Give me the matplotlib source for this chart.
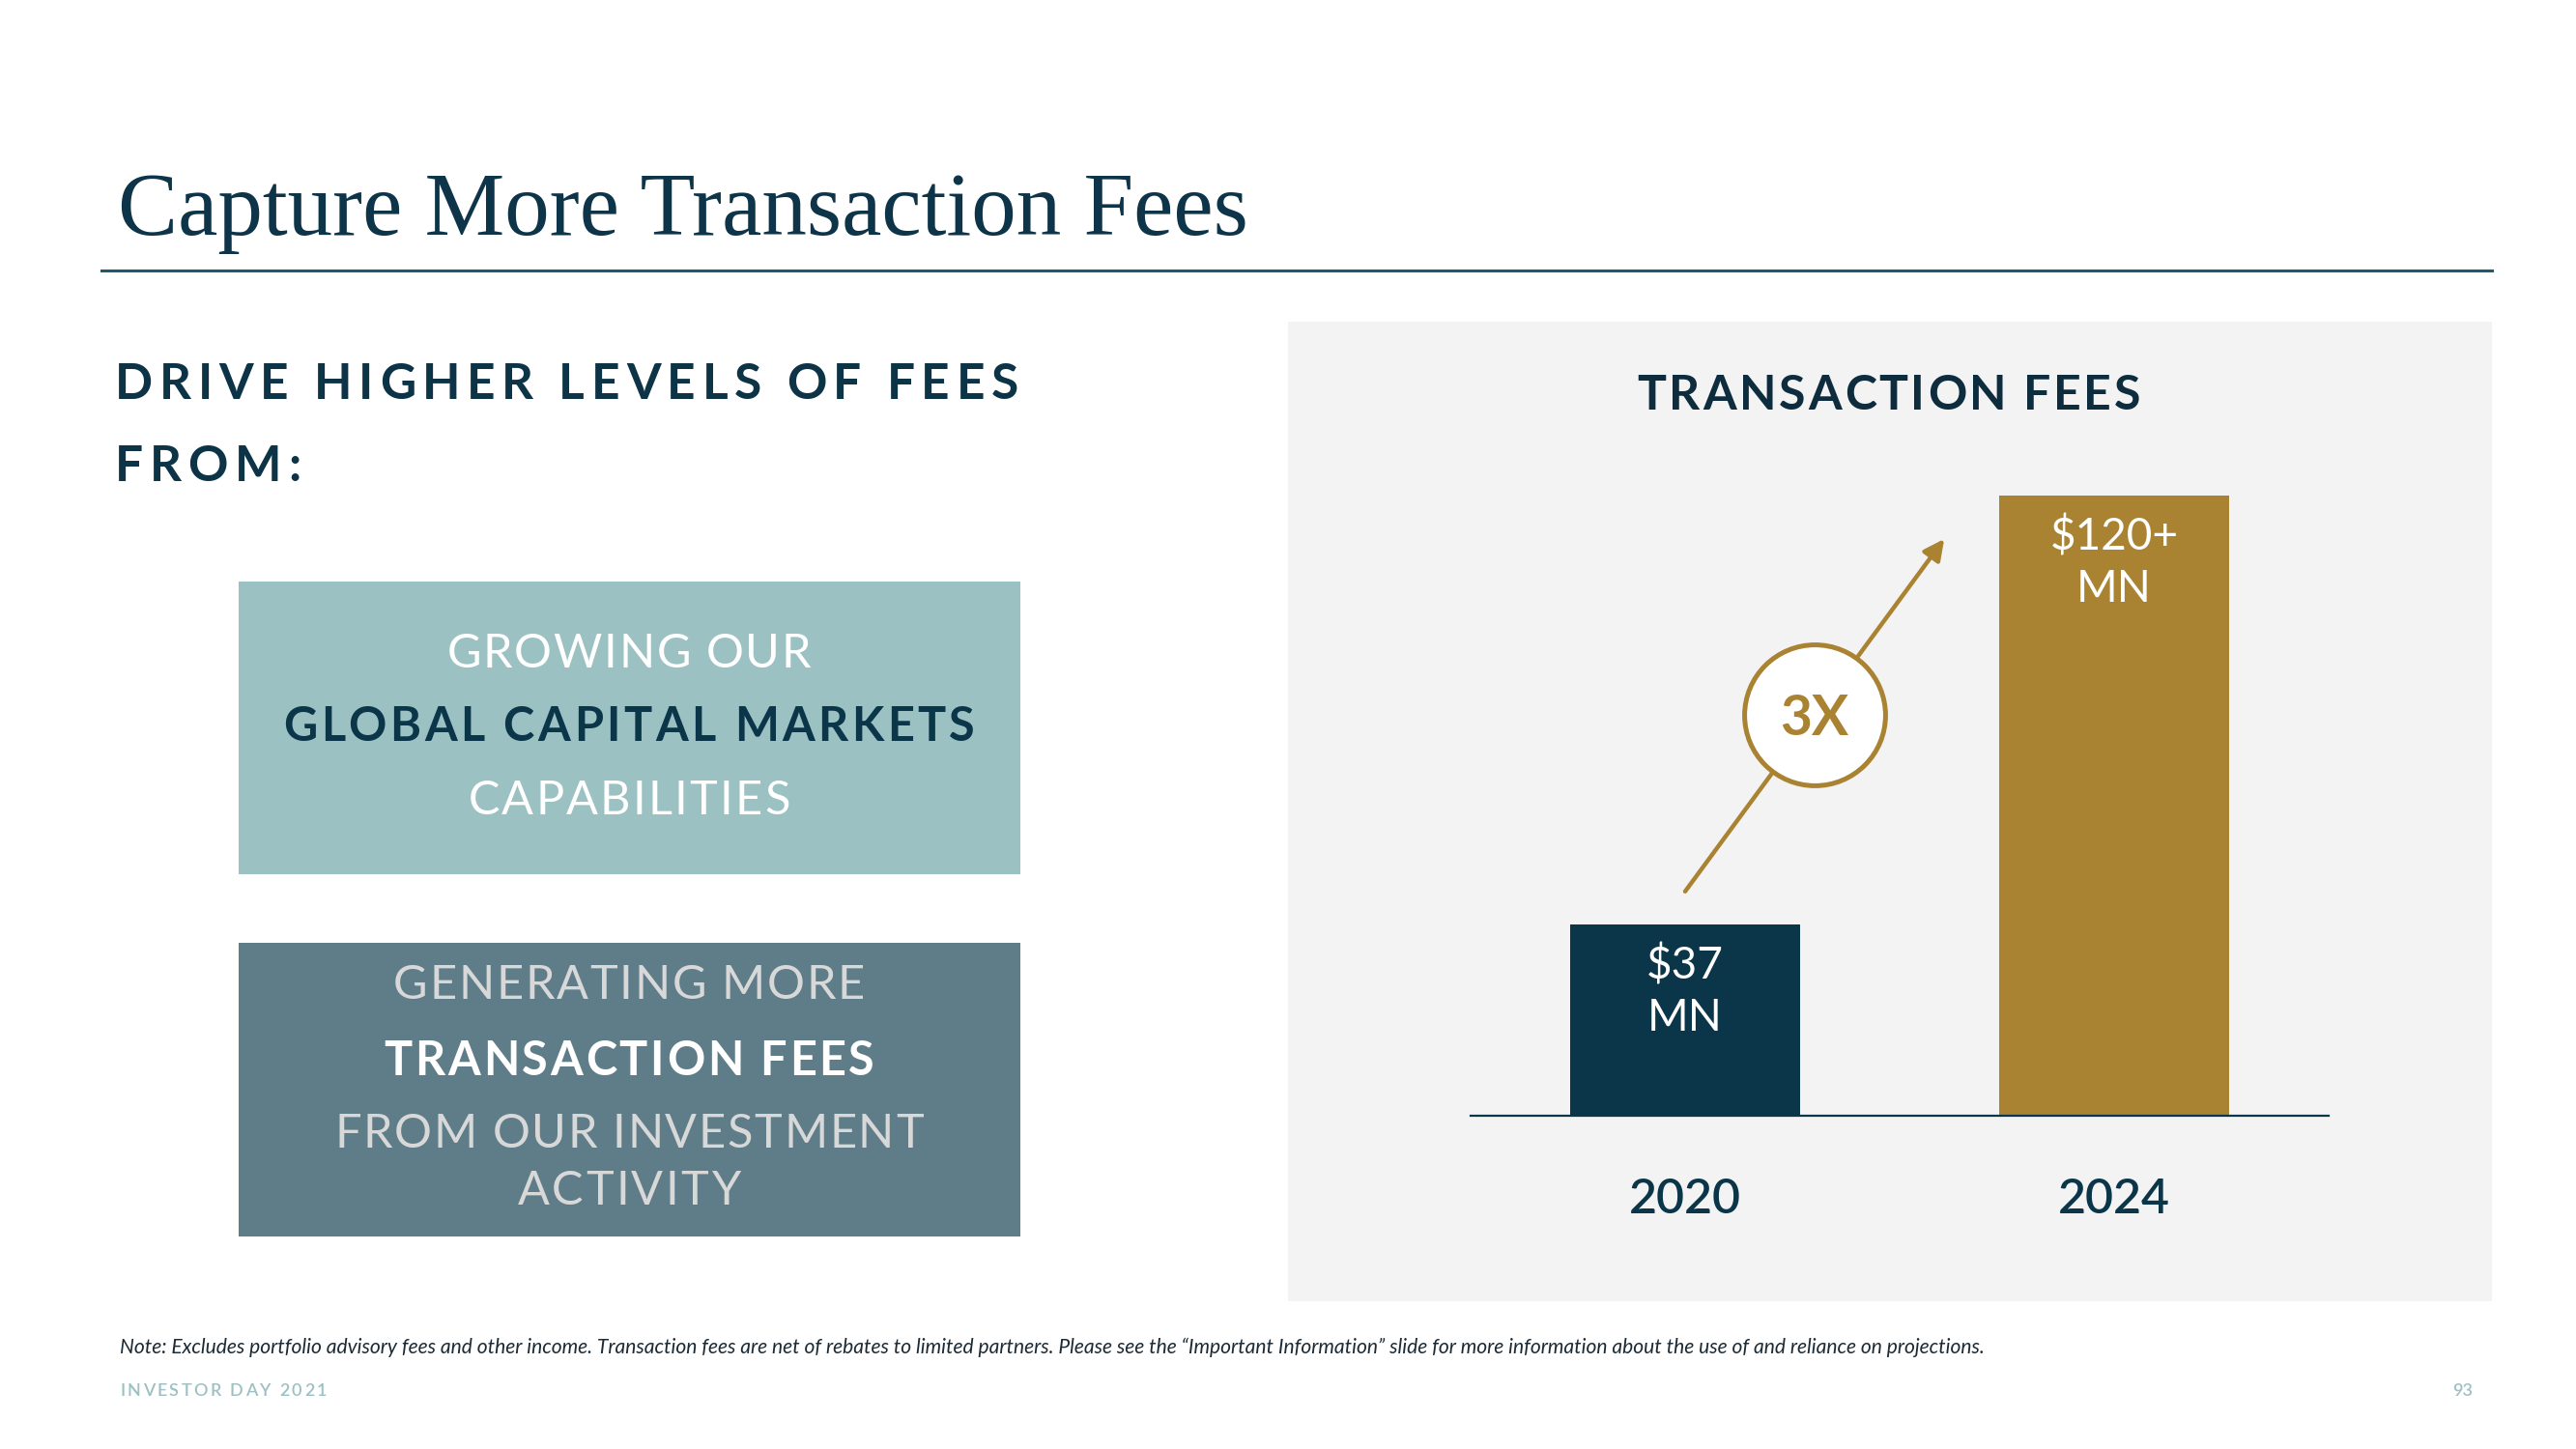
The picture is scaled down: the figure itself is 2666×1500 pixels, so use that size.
import matplotlib
matplotlib.use('Agg')

import matplotlib.pyplot as plt
from matplotlib.patches import Rectangle
from matplotlib.lines import Line2D

W, H = 2666, 1500

NAVY = '#0b3548'
DARK = '#0d2c3e'
GOLD = '#a98332'
TEAL_LIGHT = '#9bc1c2'
SLATE = '#5e7d89'
PANEL = '#f3f3f3'
FOOT = '#9cc0c3'

# data
years = ['2020', '2024']
fees = [37, 120]
fee_labels = ['$37\nMN', '$120+\nMN']
bar_colors = [NAVY, GOLD]
growth_label = '3X'

title = 'Capture More Transaction Fees'
heading = ['DRIVE HIGHER LEVELS OF FEES', 'FROM:']
box1_lines = ['GROWING OUR', 'GLOBAL CAPITAL MARKETS', 'CAPABILITIES']
box1_bold = [False, True, False]
box2_lines = ['GENERATING MORE', 'TRANSACTION FEES', 'FROM OUR INVESTMENT', 'ACTIVITY']
box2_bold = [False, True, False, False]
chart_title = 'TRANSACTION FEES'
note = ('Note: Excludes portfolio advisory fees and other income. Transaction fees are net of '
        'rebates to limited partners. Please see the \u201cImportant Information\u201d slide for more '
        'information about the use of and reliance on projections.')
footer_left = 'INVESTOR DAY 2021'
page_no = '93'

plt.rcParams['font.family'] = ['Lato', 'DejaVu Sans']

fig = plt.figure(figsize=(W / 100, H / 100), dpi=100)
fig.patch.set_facecolor('white')
rend = fig.canvas.get_renderer()


def fx(px):
    return px / W


def fy(py):
    return 1 - py / H


def text_width(s, **kw):
    t = fig.text(0, 0, s, **kw)
    w = t.get_window_extent(rend).width
    t.remove()
    return w


def spaced_text(x, y, s, width=None, track=None, ha='left', **kw):
    # draw s char by char with extra letter spacing, baseline at y (pixels)
    bar = text_width('|', **kw)
    offs = [0.0] + [text_width(s[:i] + '|', **kw) - bar for i in range(1, len(s))]
    natural = offs[-1] + text_width(s[-1], **kw)
    if track is None:
        track = (width - natural) / (len(s) - 1)
    total = natural + track * (len(s) - 1)
    x0 = x - total / 2 if ha == 'center' else x
    for i, ch in enumerate(s):
        if ch != ' ':
            fig.text(fx(x0 + offs[i] + i * track), fy(y), ch, va='baseline', **kw)
    return track


def rect(x0, y0, x1, y1, color):
    fig.add_artist(Rectangle((fx(x0), fy(y1)), (x1 - x0) / W, (y1 - y0) / H,
                             transform=fig.transFigure, color=color, lw=0, zorder=-1))


# title and rule
fig.text(fx(122), fy(243), title, family='Liberation Serif', fontsize=67,
         color='#0d3448', va='baseline')
fig.add_artist(Line2D([fx(105), fx(2579)], [fy(280), fy(280)], color='#1f5b6b', lw=2.2,
                      transform=fig.transFigure))

# left heading
tr = spaced_text(119, 413, heading[0], width=935, fontsize=37, weight='bold', color='#0c3346')
spaced_text(119, 498, heading[1], track=tr, fontsize=37, weight='bold', color='#0c3346')

# boxes
rect(247, 602, 1056, 905, TEAL_LIGHT)
rect(247, 976, 1056, 1280, SLATE)
cx = 651
box1_y = [691, 767, 843]
box1_w = [377, 716, 333]
for s, b, y, w in zip(box1_lines, box1_bold, box1_y, box1_w):
    spaced_text(cx, y, s, width=w, ha='center', fontsize=35,
                weight='bold' if b else 'normal', color=NAVY if b else 'white')
box2_y = [1034, 1113, 1188, 1247]
box2_w = [488, 507, 609, 230]
for s, b, y, w in zip(box2_lines, box2_bold, box2_y, box2_w):
    spaced_text(cx, y, s, width=w, ha='center', fontsize=35,
                weight='bold' if b else 'normal', color='white' if b else '#d8d8d8')

# chart panel
rect(1333, 333, 2579, 1347, PANEL)
spaced_text(1955, 424, chart_title, width=521, ha='center', fontsize=36, weight='bold',
            color=DARK)

ax = fig.add_axes([fx(1522), fy(1155), (2410 - 1522) / W, 695.5 / H])
ax.patch.set_visible(False)
x = list(range(len(years)))
ax.bar(x, fees, width=0.536, color=bar_colors, zorder=2)
ax.set_xlim(-0.5, 1.5)
ax.set_ylim(0, 130)
for side in ['top', 'right', 'left']:
    ax.spines[side].set_visible(False)
ax.spines['bottom'].set_color(NAVY)
ax.spines['bottom'].set_linewidth(1.6)
ax.set_yticks([])
ax.set_xticks(x, years)
ax.tick_params(axis='x', length=0, pad=46, labelsize=36, labelcolor=NAVY)
for lbl in ax.get_xticklabels():
    lbl.set_fontweight('semibold')

for xi, v, lab in zip(x, fees, fee_labels):
    ax.annotate(lab, (xi, v), xytext=(0, -15), textcoords='offset points', ha='center',
                va='top', color='white', fontsize=33, linespacing=1.34, zorder=3)

# growth arrow with badge
start = (x[0], fees[0] + 6.4)
end = (x[0] + 0.604, fees[1] - 8.4)
ax.annotate('', xy=end, xytext=start,
            arrowprops=dict(arrowstyle='-|>', color=GOLD, lw=3.2, mutation_scale=32,
                            shrinkA=0, shrinkB=0), zorder=3)
mid = ((start[0] + end[0]) / 2, (start[1] + end[1]) / 2)
ax.plot([mid[0]], [mid[1]], marker='o', ms=105, mfc='white', mec=GOLD, mew=3.6,
        zorder=4, clip_on=False)
ax.annotate(growth_label, mid, xytext=(0, -15), textcoords='offset points', ha='center',
            va='baseline', color=GOLD, fontsize=41, weight='bold', zorder=5)

# footer
note_size = 10 * 1930 / text_width(note, fontsize=10, style='italic')
fig.text(fx(124), fy(1401), note, fontsize=note_size, style='italic', color='#1b2a35',
         va='baseline')
spaced_text(124, 1445, footer_left, width=214, fontsize=13, weight='semibold', color=FOOT)
fig.text(fx(2559), fy(1445), page_no, fontsize=13, weight='semibold', color=FOOT,
         ha='right', va='baseline')

fig.savefig('out.png', dpi=100, facecolor='white')
